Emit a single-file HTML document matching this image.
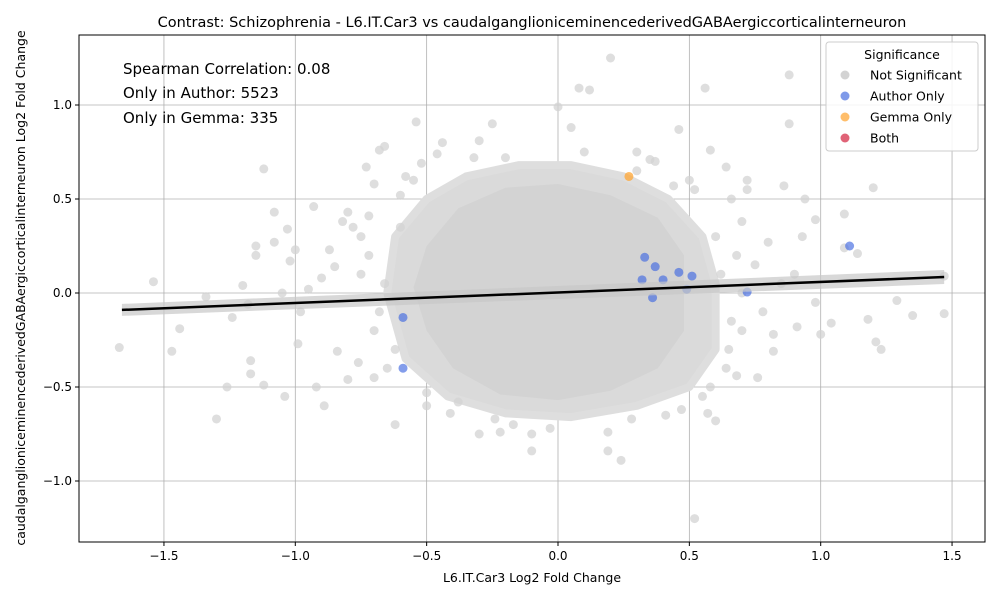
<!DOCTYPE html>
<html><head><meta charset="utf-8"><style>
body{margin:0;background:#fff;font-family:"Liberation Sans","DejaVu Sans",sans-serif;}
svg text{font-family:"DejaVu Sans","Liberation Sans",sans-serif;}
</style></head><body>
<svg id="chart" width="1000" height="600" xmlns="http://www.w3.org/2000/svg">
<rect width="1000" height="600" fill="#fff"/>
<g id="grid"></g><g id="core"></g><g id="pts"></g><g id="fit"></g><g id="axes"></g>
</svg>
<script>
const xTicks=[-1.5,-1.0,-0.5,0.0,0.5,1.0,1.5];
const yTicks=[-1.0,-0.5,0.0,0.5,1.0];
const greyX=[-1.67,-1.54,-1.47,-1.44,-1.34,-1.3,-1.26,-1.24,-1.2,-1.18,-1.17,-1.17,-1.15,-1.15,-1.12,-1.12,-1.08,-1.08,-1.04,-1.03,-1.02,-1.0,-0.99,-0.98,-0.93,-0.92,-0.89,-0.87,-0.85,-0.84,-0.82,-0.8,-0.8,-0.76,-0.73,-0.72,-0.7,-0.68,-0.66,-0.62,-0.6,-0.58,-0.54,-0.52,-0.5,-0.46,-0.44,-0.41,-0.38,-0.32,-0.3,-0.25,-0.24,-0.22,-0.2,-0.17,-0.1,-0.03,0.0,0.05,0.08,0.12,0.19,0.19,0.24,0.28,0.3,0.35,0.37,0.41,0.44,0.46,0.47,0.52,0.56,0.57,0.58,0.6,0.64,0.66,0.68,0.7,0.72,0.72,0.76,0.8,0.82,0.82,0.86,0.88,0.88,0.9,0.91,0.93,0.94,0.98,0.98,1.0,1.04,1.09,1.09,1.14,1.18,1.2,1.21,1.23,1.29,1.35,1.47,1.47,0.2,0.52,-0.78,-0.9,-0.95,-1.05,-0.7,-0.75,0.65,0.75,0.78,0.6,0.85,-0.65,-0.6,0.7,-0.72,-0.68,-0.66,-0.62,-0.7,-0.75,0.62,0.66,0.68,0.64,0.7,0.58,-0.55,-0.5,0.5,0.55,-0.3,-0.1,0.1,0.3];
const greyY=[-0.29,0.06,-0.31,-0.19,-0.02,-0.67,-0.5,-0.13,0.04,-0.06,-0.36,-0.43,0.25,0.2,0.66,-0.49,0.43,0.27,-0.55,0.34,0.17,0.23,-0.27,-0.1,0.46,-0.5,-0.6,0.23,0.14,-0.31,0.38,-0.46,0.43,-0.37,0.67,0.41,0.58,0.76,0.78,-0.7,0.52,0.62,0.91,0.69,-0.53,0.74,0.8,-0.64,-0.58,0.72,0.81,0.9,-0.67,-0.74,0.72,-0.7,-0.84,-0.72,0.99,0.88,1.09,1.08,-0.84,-0.74,-0.89,-0.67,0.65,0.71,0.7,-0.65,0.57,0.87,-0.62,0.55,1.09,-0.64,0.76,-0.68,0.67,0.5,-0.44,0.38,0.6,0.55,-0.45,0.27,-0.22,-0.31,0.57,1.16,0.9,0.1,-0.18,0.3,0.5,0.39,-0.05,-0.22,-0.16,0.42,0.24,0.21,-0.14,0.56,-0.26,-0.3,-0.04,-0.12,-0.11,0.09,1.25,-1.2,0.35,0.08,0.02,0.0,-0.2,0.1,-0.3,0.15,-0.1,0.3,0.05,-0.4,0.35,-0.2,0.2,-0.1,0.05,-0.3,-0.45,0.3,0.1,-0.15,0.2,-0.4,0.0,-0.5,0.6,-0.6,0.6,-0.55,-0.75,-0.75,0.75,0.75];
const blueX=[-0.59,-0.59,1.11,0.72,0.51,0.46,0.40,0.36,0.33,0.37,0.32,0.49];
const blueY=[-0.4,-0.13,0.25,0.005,0.09,0.11,0.07,-0.025,0.19,0.14,0.07,0.02];
const orangeX=[0.27];
const orangeY=[0.62];
const coreOuterX=[-0.62,-0.5,-0.35,-0.15,0.05,0.25,0.42,0.55,0.6,0.6,0.5,0.3,0.05,-0.2,-0.42,-0.58,-0.65];
const coreOuterY=[0.3,0.5,0.62,0.68,0.68,0.62,0.5,0.3,0.05,-0.3,-0.5,-0.6,-0.66,-0.64,-0.55,-0.35,0.0];
const coreInnerX=[-0.5,-0.38,-0.2,0,0.2,0.38,0.48,0.48,0.38,0.2,0,-0.22,-0.4,-0.5,-0.55];
const coreInnerY=[0.25,0.45,0.56,0.58,0.52,0.4,0.2,-0.2,-0.4,-0.52,-0.57,-0.54,-0.4,-0.2,0.03];
const fitX=[-1.66,1.47];
const fitY=[-0.09,0.085];
const L=79,R=985,T=35,B=542;
const sx=v=>558+v*262.7, sy=v=>293-v*188;
const NS="http://www.w3.org/2000/svg";
function mk(p,tag,a){const e=document.createElementNS(NS,tag);for(const k in a)e.setAttribute(k,a[k]);p.appendChild(e);return e;}
const grid=document.getElementById('grid'),axes=document.getElementById('axes');
xTicks.forEach(t=>{const l=mk(grid,'line',{x1:sx(t),x2:sx(t),y1:T,y2:B,stroke:'#b0b0b0','stroke-width':0.8});

mk(axes,'line',{x1:sx(t),x2:sx(t),y1:B,y2:B+4,stroke:'#000'});
const tx=mk(axes,'text',{x:sx(t),y:B+18,'text-anchor':'middle','font-size':12});tx.textContent=(t<0?'−':'')+Math.abs(t).toFixed(1);
});
yTicks.forEach(t=>{const l=mk(grid,'line',{x1:L,x2:R,y1:sy(t),y2:sy(t),stroke:'#b0b0b0','stroke-width':0.8});

mk(axes,'line',{x1:L-4,x2:L,y1:sy(t),y2:sy(t),stroke:'#000'});
const tx=mk(axes,'text',{x:L-7,y:sy(t)+4,'text-anchor':'end','font-size':12});tx.textContent=(t<0?'−':'')+Math.abs(t).toFixed(1);
});
const core=document.getElementById('core');
const poly=(xs,ys)=>xs.map((x,i)=>sx(x)+','+sy(ys[i])).join(' ');
const c1=mk(core,'polygon',{points:poly(coreOuterX,coreOuterY),fill:'#dadada','stroke':'#dedede','stroke-width':8,'stroke-linejoin':'round'});

const c2=mk(core,'polygon',{points:poly(coreInnerX,coreInnerY),fill:'#d3d3d3'});

const pts=document.getElementById('pts');
greyX.forEach((x,i)=>{const c=mk(pts,'circle',{cx:sx(x),cy:sy(greyY[i]),r:4.5,fill:'#d3d3d3','fill-opacity':0.75});
});
blueX.forEach((x,i)=>{const c=mk(pts,'circle',{cx:sx(x),cy:sy(blueY[i]),r:4.5,fill:'#4169e1','fill-opacity':0.65});
});
orangeX.forEach((x,i)=>{const c=mk(pts,'circle',{cx:sx(x),cy:sy(orangeY[i]),r:4.5,fill:'#ffa533','fill-opacity':0.75});
});
const fit=document.getElementById('fit');
const band=mk(fit,'polygon',{points:`${sx(fitX[0])},${sy(fitY[0])-6} ${sx(fitX[1])},${sy(fitY[1])-7} ${sx(fitX[1])},${sy(fitY[1])+7} ${sx(fitX[0])},${sy(fitY[0])+6}`,fill:'#c8c8c8','fill-opacity':0.7});

const ln=mk(fit,'line',{x1:sx(fitX[0]),y1:sy(fitY[0]),x2:sx(fitX[1]),y2:sy(fitY[1]),stroke:'#000','stroke-width':2.5});

const fr=mk(axes,'rect',{x:L,y:T,width:R-L,height:B-T,fill:'none',stroke:'#000','stroke-width':1});

function txt(s,a,name){const t=mk(axes,'text',a);t.textContent=s;return t;}
txt('Contrast: Schizophrenia - L6.IT.Car3 vs caudalganglioniceminencederivedGABAergiccorticalinterneuron',{x:532,y:27,'text-anchor':'middle','font-size':14.5},'chart-title');
txt('L6.IT.Car3 Log2 Fold Change',{x:532,y:582,'text-anchor':'middle','font-size':12.5},'x-axis-title');
txt('caudalganglioniceminencederivedGABAergiccorticalinterneuron Log2 Fold Change',{x:0,y:0,'text-anchor':'middle','font-size':12.5,transform:'translate(25,288) rotate(-90)'},'y-axis-title');
txt('Spearman Correlation: 0.08',{x:123,y:74,'font-size':15},'stat-spearman');
txt('Only in Author: 5523',{x:123,y:98,'font-size':15},'stat-author-only');
txt('Only in Gemma: 335',{x:123,y:123,'font-size':15},'stat-gemma-only');
const lg=mk(axes,'rect',{x:826,y:42,width:152,height:109,rx:3,fill:'#fff','fill-opacity':0.85,stroke:'#ccc'});

txt('Significance',{x:902,y:59,'text-anchor':'middle','font-size':12.5},'legend-title');
[['Not Significant','#d3d3d3'],['Author Only','#7f9ae9'],['Gemma Only','#ffbe6b'],['Both','#e06377']].forEach((e,i)=>{
const y=75+i*21;const c=mk(axes,'circle',{cx:845,cy:y,r:4.5,fill:e[1]});
txt(e[0],{x:870,y:y+4.5,'font-size':12.5},'legend-entry');});
</script>
</body></html>
